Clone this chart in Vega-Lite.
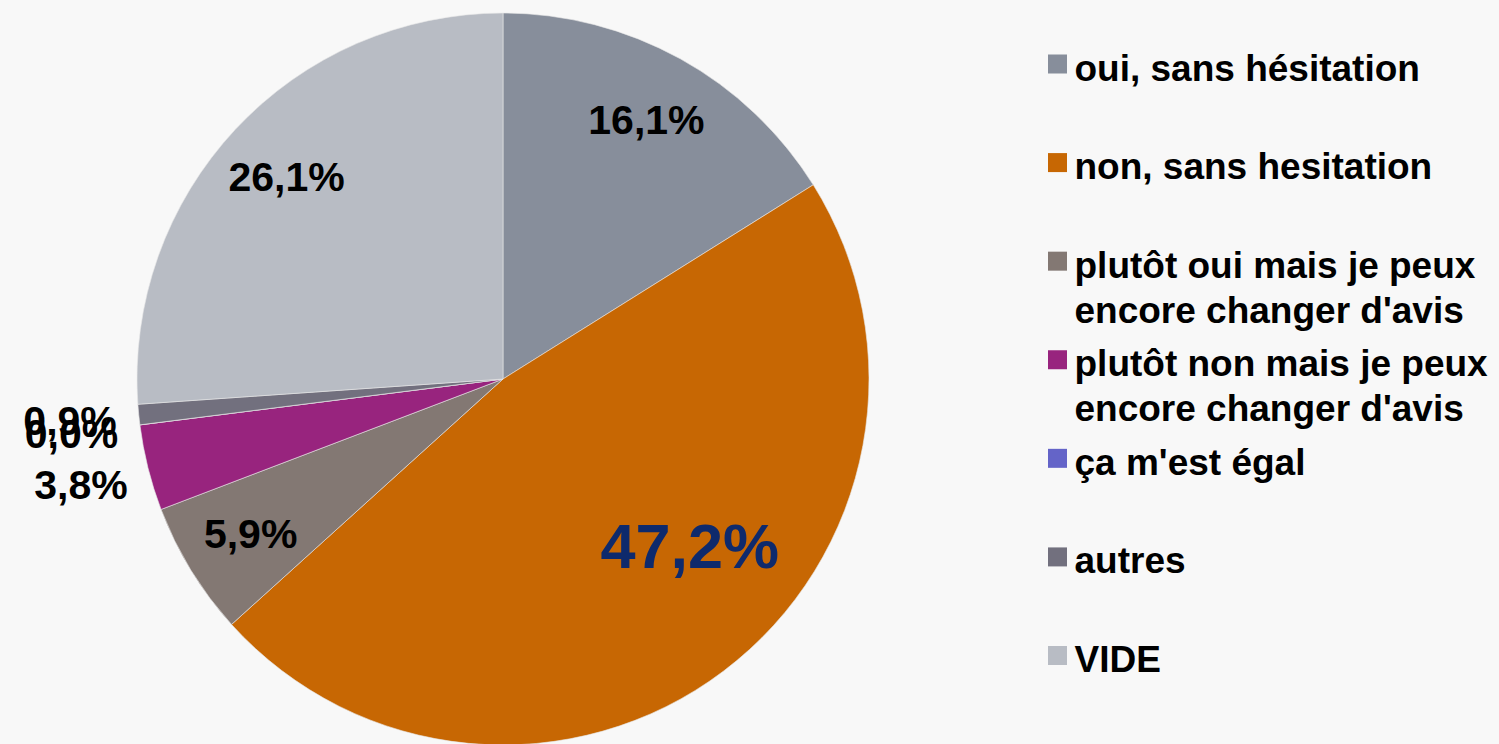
{
  "$schema": "https://vega.github.io/schema/vega-lite/v6.json",
  "background": "#f8f8f8",
  "padding": 0,
  "spacing": 0,
  "config": {"view": {"stroke": null}, "concat": {"spacing": 0}},
  "datasets": {
    "slices": [
      {"cat": "oui, sans hésitation", "order": 1, "value": 16.1, "label": "16,1%", "pos": "in", "legend": ["oui, sans hésitation"]},
      {"cat": "non, sans hesitation", "order": 2, "value": 47.2, "label": "47,2%", "pos": "big", "legend": ["non, sans hesitation"]},
      {"cat": "plutôt oui mais je peux encore changer d'avis", "order": 3, "value": 5.9, "label": "5,9%", "pos": "in", "legend": ["plutôt oui mais je peux", "encore changer d'avis"]},
      {"cat": "plutôt non mais je peux encore changer d'avis", "order": 4, "value": 3.8, "label": "3,8%", "pos": "out", "legend": ["plutôt non mais je peux", "encore changer d'avis"]},
      {"cat": "ça m'est égal", "order": 5, "value": 0.0, "label": "0,0%", "pos": "out", "legend": ["ça m'est égal"]},
      {"cat": "autres", "order": 6, "value": 0.9, "label": "0,9%", "pos": "out", "legend": ["autres"]},
      {"cat": "VIDE", "order": 7, "value": 26.1, "label": "26,1%", "pos": "in", "legend": ["VIDE"]}
    ]
  },
  "hconcat": [
    {
      "width": 1006,
      "height": 744,
      "data": {"name": "slices"},
      "encoding": {
        "theta": {"field": "value", "type": "quantitative", "stack": true},
        "order": {"field": "order", "type": "quantitative"},
        "color": {
          "field": "cat",
          "type": "nominal",
          "sort": null,
          "legend": null,
          "scale": {
            "domain": ["oui, sans hésitation", "non, sans hesitation", "plutôt oui mais je peux encore changer d'avis", "plutôt non mais je peux encore changer d'avis", "ça m'est égal", "autres", "VIDE"],
            "range": ["#878e9b", "#c76703", "#837873", "#98247e", "#6464c8", "#72707e", "#b8bcc4"]
          }
        }
      },
      "layer": [
        {
          "mark": {"type": "arc", "radius": 366, "yOffset": 5, "stroke": "#e8e8e8", "strokeWidth": 0.6}
        },
        {
          "mark": {"type": "text", "radius": 296, "dy": 7, "fontWeight": "bold", "font": "Liberation Sans", "baseline": "middle", "align": "center", "fill": "#000000"},
          "encoding": {
            "text": {"condition": {"test": "datum.pos == 'in'", "field": "label"}, "value": ""},
            "size": {"condition": {"test": "datum.pos == 'in'", "value": 41}, "value": 0},
            "color": {"value": "#000000"}
          }
        },
        {
          "mark": {"type": "text", "radius": 435, "dy": 7, "fontWeight": "bold", "font": "Liberation Sans", "baseline": "middle", "align": "center", "fill": "#000000"},
          "encoding": {
            "text": {"condition": {"test": "datum.pos == 'out'", "field": "label"}, "value": ""},
            "size": {"condition": {"test": "datum.pos == 'out'", "value": 41}, "value": 0},
            "color": {"value": "#000000"}
          }
        },
        {
          "mark": {"type": "text", "radius": 255, "dx": 33, "dy": -28, "fontWeight": "bold", "font": "Liberation Sans", "baseline": "middle", "align": "center"},
          "encoding": {
            "text": {"condition": {"test": "datum.pos == 'big'", "field": "label"}, "value": ""},
            "size": {"condition": {"test": "datum.pos == 'big'", "value": 63}, "value": 0},
            "color": {"value": "#0e2a6c"}
          }
        }
      ]
    },
    {
      "width": 493,
      "height": 744,
      "data": {"name": "slices"},
      "encoding": {
        "y": {
          "field": "cat",
          "type": "nominal",
          "axis": null,
          "scale": {
            "domain": ["oui, sans hésitation", "non, sans hesitation", "plutôt oui mais je peux encore changer d'avis", "plutôt non mais je peux encore changer d'avis", "ça m'est égal", "autres", "VIDE"],
            "range": [62, 653.5],
            "padding": 0
          }
        },
        "x": {"datum": 51.5, "type": "quantitative", "axis": null, "scale": {"domain": [0, 493], "nice": false, "zero": false}}
      },
      "layer": [
        {
          "mark": {"type": "square", "size": 361, "filled": true, "opacity": 1},
          "encoding": {
            "color": {
              "field": "cat",
              "type": "nominal",
              "legend": null,
              "scale": {
                "domain": ["oui, sans hésitation", "non, sans hesitation", "plutôt oui mais je peux encore changer d'avis", "plutôt non mais je peux encore changer d'avis", "ça m'est égal", "autres", "VIDE"],
                "range": ["#878e9b", "#c76703", "#837873", "#98247e", "#6464c8", "#72707e", "#b8bcc4"]
              }
            }
          }
        },
        {
          "mark": {"type": "text", "align": "left", "baseline": "alphabetic", "dx": 17, "dy": 16.5, "fontSize": 37, "fontWeight": "bold", "font": "Liberation Sans", "lineHeight": 45, "color": "#000000"},
          "encoding": {"text": {"field": "legend", "type": "nominal"}}
        }
      ]
    }
  ]
}
